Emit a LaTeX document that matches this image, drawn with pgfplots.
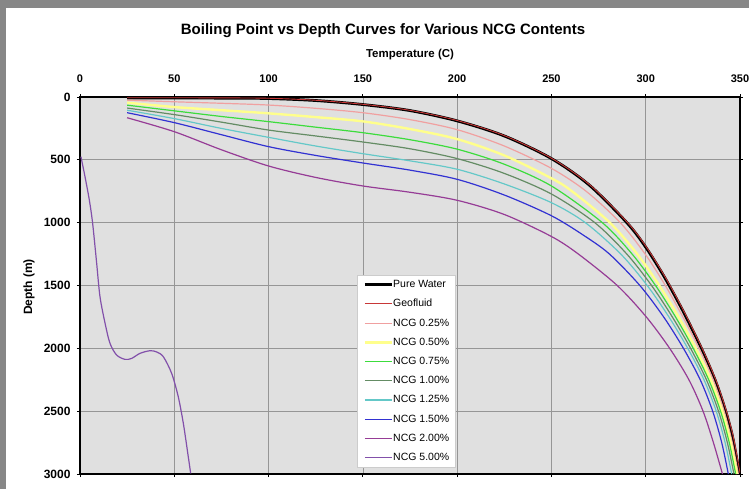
\documentclass[border=0pt]{standalone}
\usepackage{fontspec}
\setmainfont{Liberation Sans}
\usepackage{pgfplots}
\pgfplotsset{compat=1.18}

\definecolor{framegray}{RGB}{135,135,135}
\definecolor{plotbg}{RGB}{224,224,224}
\definecolor{gridgray}{RGB}{150,150,150}
\definecolor{geo}{RGB}{200,55,55}
\definecolor{ncgA}{RGB}{240,160,160}
\definecolor{ncgB}{RGB}{255,255,140}
\definecolor{ncgC}{RGB}{60,220,60}
\definecolor{ncgD}{RGB}{100,140,100}
\definecolor{ncgE}{RGB}{100,200,200}
\definecolor{ncgF}{RGB}{50,50,210}
\definecolor{ncgG}{RGB}{150,60,150}
\definecolor{ncgH}{RGB}{130,80,170}

\begin{document}
\begin{tikzpicture}
\fill[framegray] (-80pt,-15pt) rectangle (669pt,474pt);
\fill[white] (-74pt,-15pt) rectangle (669pt,466pt);
\begin{axis}[
    at={(0pt,0pt)}, anchor=south west,
    scale only axis, width=660pt, height=377pt,
    xmin=0, xmax=350, ymin=0, ymax=3000,
    y dir=reverse,
    xtick={0,50,...,350}, ytick={0,500,...,3000},
    xticklabel pos=upper,
    scaled ticks=false,
    /pgf/number format/1000 sep={},
    /pgf/number format/assume math mode=true,
    xticklabel style={font=\fontsize{11}{13}\bfseries\selectfont, yshift=8pt},
    yticklabel style={font=\fontsize{12}{14}\bfseries\selectfont, xshift=-3pt},
    axis background/.style={fill=plotbg},
    grid=major,
    grid style={gridgray, line width=0.7pt},
    axis line style={black, line width=1.4pt},
    tick align=outside, major tick length=3pt,
    tick style={black, line width=0.8pt},
    legend cell align=left,
    legend image code/.code={\draw[#1] (0pt,0pt) -- (27pt,0pt);},
    legend style={at={(axis description cs:0.420,0.528)}, anchor=north west,
        font=\fontsize{10.5}{12}\selectfont, draw=gray!40, fill=white,
        inner xsep=6pt, inner ysep=4.5pt, row sep=9pt,
        nodes={inner sep=0pt, text height=8pt, text depth=2.2pt}},
    every axis plot/.append style={smooth, tension=0.5},
]
% Pure Water
\addplot[black, line width=2.8pt] coordinates {
 (25,8) (50,8) (75,9) (100,12) (125,28) (150,60) (175,108) (200,190)
 (225,310) (250,490) (270,700) (290,1000) (300,1195) (310,1435) (320,1710)
 (330,2015) (337,2260) (342,2480) (346,2700) (349.7,3000)};
\addlegendentry{Pure Water}
% Geofluid
\addplot[geo, line width=0.9pt] coordinates {
 (25,6) (50,6) (75,7) (100,10) (125,26) (150,58) (175,106) (200,187)
 (225,307) (250,487) (270.4,700) (290.4,1000) (300.4,1195) (310.4,1435)
 (320.4,1710) (330.4,2015) (337.4,2260) (342.4,2480) (346.4,2700) (350,2990)};
\addlegendentry{Geofluid}
% NCG 0.25%
\addplot[ncgA, line width=1.2pt] coordinates {
 (25,25) (50,38) (75,50) (100,64) (125,90) (150,125) (175,180) (200,260)
 (225,390) (250,568) (268.4,750) (286.5,1000) (299.7,1250) (310.4,1500)
 (319.7,1750) (328.3,2000) (335.8,2250) (341.6,2500) (345.9,2750) (349.1,3000)};
\addlegendentry{NCG 0.25\%}
% NCG 0.50%
\addplot[ncgB, line width=2.4pt] coordinates {
 (25,45) (50,80) (75,105) (100,130) (125,160) (150,194) (175,255) (200,335)
 (225,465) (250,647) (260.9,750) (281,1000) (295.5,1250) (307.2,1500)
 (317.4,1750) (326.5,2000) (334.5,2250) (340.6,2500) (345.1,2750) (348.4,3000)};
\addlegendentry{NCG 0.50\%}
% NCG 0.75%
\addplot[ncgC, line width=1.2pt] coordinates {
 (25,65) (50,110) (75,155) (100,196) (125,240) (150,284) (175,340) (200,415)
 (225,535) (250,708) (277,1000) (292.8,1250) (305.2,1500)
 (315.8,1750) (325.2,2000) (333.4,2250) (339.7,2500) (344.3,2750) (347.7,3000)};
\addlegendentry{NCG 0.75\%}
% NCG 1.00%
\addplot[ncgD, line width=1.2pt] coordinates {
 (25,88) (50,140) (75,200) (100,263) (125,310) (150,358) (175,412) (200,490)
 (225,608) (250,772) (273,1000) (290,1250) (303.1,1500) (314.1,1750)
 (323.8,2000) (332.2,2250) (338.6,2500) (343.3,2750) (346.8,3000)};
\addlegendentry{NCG 1.00\%}
% NCG 1.25%
\addplot[ncgE, line width=1.2pt] coordinates {
 (25,105) (50,172) (75,250) (100,321) (125,390) (150,451) (175,508) (200,575)
 (225,692) (250,841) (268,1000) (286.8,1250) (300.8,1500) (312.3,1750)
 (322.3,2000) (330.9,2250) (337.4,2500) (342.1,2750) (345.6,3000)};
\addlegendentry{NCG 1.25\%}
% NCG 1.50%
\addplot[ncgF, line width=1.2pt] coordinates {
 (25,125) (50,204) (75,300) (100,395) (125,465) (150,525) (175,582) (200,655)
 (225,780) (250,945) (267,1100) (280.8,1250) (296.9,1500) (309.5,1750)
 (320,2000) (328.9,2250) (335.5,2500) (340.3,2750) (343.8,3000)};
\addlegendentry{NCG 1.50\%}
% NCG 2.00%
\addplot[ncgG, line width=1.2pt] coordinates {
 (25,165) (50,276) (75,420) (100,549) (125,640) (150,708) (175,758) (200,822)
 (225,935) (250,1110) (264.3,1250) (284.9,1500) (300.3,1750) (312.7,2000)
 (322.9,2250) (330.4,2500) (335.9,2750) (340.7,3000)};
\addlegendentry{NCG 2.00\%}
% NCG 5.00%
\addplot[ncgH, line width=1.2pt] coordinates {
 (0.5,475) (2.65,634) (4.95,820) (6.7,1005) (8.84,1323) (10.6,1589)
 (13.3,1801) (15.9,1960) (19.4,2053) (23.9,2088) (27.4,2080) (31.8,2040)
 (37.1,2019) (40.7,2029) (44.2,2067) (48.6,2199) (52.1,2385) (54.8,2597)
 (56.9,2809) (58.7,2995)};
\addlegendentry{NCG 5.00\%}
\end{axis}
\node[font=\fontsize{15}{18}\bfseries\selectfont, anchor=base] at (303pt,439pt)
  {Boiling Point vs Depth Curves for Various NCG Contents};
\node[font=\fontsize{11.5}{14}\bfseries\selectfont, anchor=base] at (330pt,416pt)
  {Temperature (C)};
\node[font=\fontsize{12}{14}\bfseries\selectfont, rotate=90] at (-51pt,187pt)
  {Depth (m)};
\pgfresetboundingbox
\path[use as bounding box] (-80pt,-15pt) rectangle (669pt,474pt);
\end{tikzpicture}
\end{document}
